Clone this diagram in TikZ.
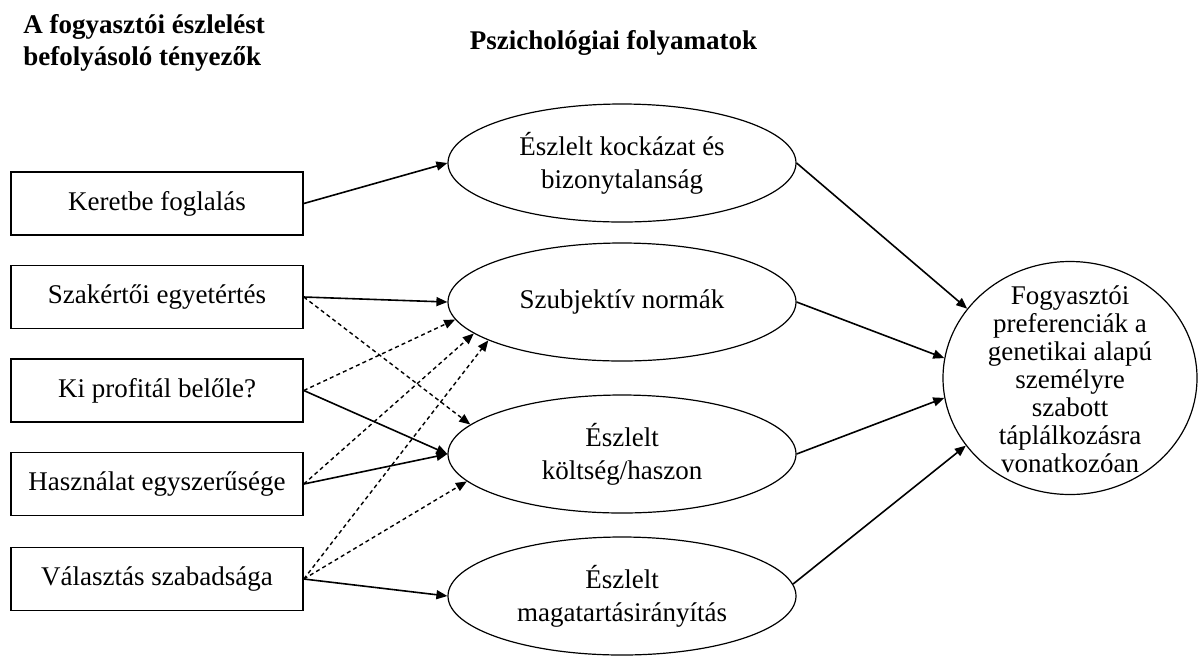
\documentclass[tikz,border=0pt]{standalone}
\usepackage{fontspec}
\setmainfont{Liberation Serif}
\usetikzlibrary{arrows.meta,shapes.geometric}
\begin{document}
\begin{tikzpicture}[x=0.5pt,y=-0.5pt,
  every node/.style={font=\fontsize{13.5}{16.5}\selectfont},
  factor/.style={draw, line width=0.8pt, rectangle, minimum width=146pt, minimum height=31.5pt, inner sep=0pt},
  proc/.style={draw, line width=0.6pt, ellipse, minimum width=174pt, minimum height=59pt, inner sep=0pt, align=center},
  outc/.style={draw, line width=0.6pt, ellipse, minimum width=127pt, minimum height=116.5pt, inner sep=0pt},
  arr/.style={-{Triangle[length=5.5pt,width=4.5pt]}, line width=0.8pt},
  darr/.style={arr, line width=0.7pt, dash pattern=on 2pt off 1.6pt},
  head/.style={font=\fontsize{13.5}{16}\selectfont\bfseries, inner sep=0pt}
]
\useasboundingbox (0,0) rectangle (1199,655);
\node[head, anchor=base west, align=left] (h1) at (23,65) {A fogyasztói észlelést\\befolyásoló tényezők};
\node[head, anchor=base] (h2) at (613.5,49) {Pszichológiai folyamatok};

\node[factor] (b1) at (157,203.5) {Keretbe foglalás};
\node[factor] (b2) at (157,297) {Szakértői egyetértés};
\node[factor] (b3) at (157,390.5) {Ki profitál belőle?};
\node[factor] (b4) at (157,484) {Használat egyszerűsége};
\node[factor] (b5) at (157,579) {Választás szabadsága};

\node[proc] (e1) at (622,163) {Észlelt kockázat és\\bizonytalanság};
\node[proc] (e2) at (622,302) {Szubjektív normák};
\node[proc] (e3) at (622,454) {Észlelt\\költség/haszon};
\node[proc] (e4) at (622,596) {Észlelt\\magatartásirányítás};

\node[outc] (out) at (1070,378) {};
\node[align=center, font=\fontsize{13.5}{14}\selectfont, inner sep=0pt] (outtext) at (1070,379)
  {Fogyasztói\\preferenciák a\\genetikai alapú\\személyre\\szabott\\táplálkozásra\\vonatkozóan};

\draw[arr] (b1.east) -- (e1.west);
\draw[arr] (b2.east) -- (e2.west);
\draw[arr] (b3.east) -- (e3.west);
\draw[arr] (b4.east) -- (e3.west);
\draw[arr] (b5.east) -- (e4.west);

\draw[darr] (b2.east) -- (e3.169);
\draw[darr] (b3.east) -- (e2.186);
\draw[darr] (b4.east) -- (e2.192);
\draw[darr] (b5.east) -- (e2.196);
\draw[darr] (b5.east) -- (e3.190.5);

\draw[arr] (e1.east) -- (out.146);
\draw[arr] (e2.east) -- (out.171);
\draw[arr] (e3.east) -- (out.189);
\draw[arr] (e4.4) -- (out.213);
\end{tikzpicture}
\end{document}
